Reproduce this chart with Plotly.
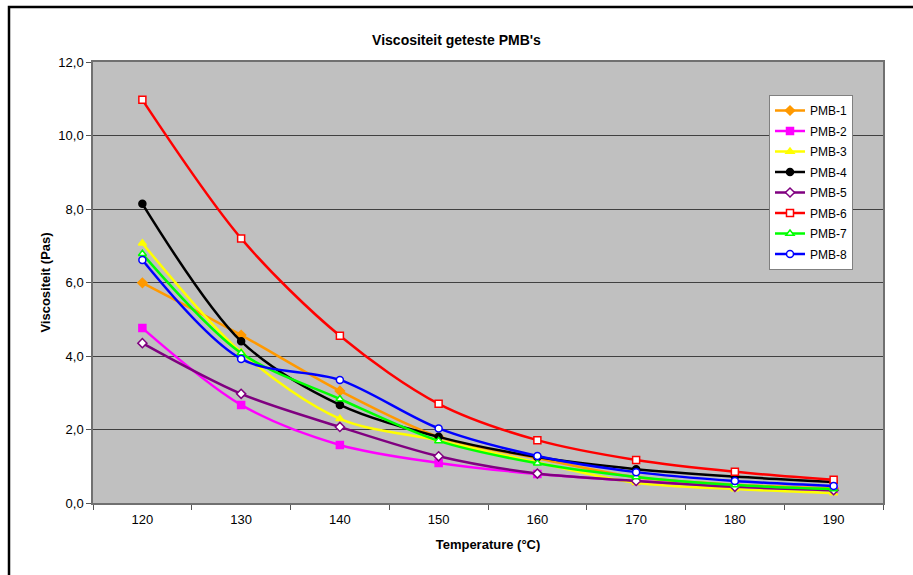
import plotly.graph_objects as go

# Temperatures (°C) and measured viscosity (Pa·s) per PMB sample
temperatures = ["120", "130", "140", "150", "160", "170", "180", "190"]

pmb_1 = [5.99, 4.57, 3.05, 1.80, 1.22, 0.70, 0.50, 0.40]
pmb_2 = [4.76, 2.67, 1.58, 1.09, 0.79, 0.60, 0.45, 0.35]
pmb_3 = [7.07, 4.10, 2.29, 1.70, 1.10, 0.55, 0.38, 0.27]
pmb_4 = [8.14, 4.40, 2.67, 1.80, 1.25, 0.92, 0.72, 0.57]
pmb_5 = [4.35, 2.97, 2.07, 1.27, 0.80, 0.60, 0.44, 0.35]
pmb_6 = [10.97, 7.20, 4.55, 2.70, 1.71, 1.17, 0.85, 0.63]
pmb_7 = [6.78, 4.08, 2.83, 1.69, 1.08, 0.71, 0.49, 0.38]
pmb_8 = [6.61, 3.92, 3.35, 2.03, 1.28, 0.84, 0.60, 0.46]

series = [
    ("PMB-1", pmb_1, "#FF9900", "diamond", "#FF9900"),
    ("PMB-2", pmb_2, "#FF00FF", "square", "#FF00FF"),
    ("PMB-3", pmb_3, "#FFFF00", "triangle-up", "#FFFF00"),
    ("PMB-4", pmb_4, "#000000", "circle", "#000000"),
    ("PMB-5", pmb_5, "#800080", "diamond", "#FFFFFF"),
    ("PMB-6", pmb_6, "#FF0000", "square", "#FFFFFF"),
    ("PMB-7", pmb_7, "#00FF00", "triangle-up", "#FFFFFF"),
    ("PMB-8", pmb_8, "#0000FF", "circle", "#FFFFFF"),
]

fig = go.Figure()
for name, values, color, symbol, fill in series:
    fig.add_trace(go.Scatter(
        x=temperatures, y=values, name=name, legendgroup=name,
        mode="lines+markers",
        line=dict(color=color, width=2.5, shape="spline", smoothing=0.9),
        marker=dict(symbol=symbol, size=7, color=fill,
                    line=dict(color=color, width=1.5)),
    ))

FONT = "Liberation Sans, Arial, sans-serif"

# page layout: plot area spans 93..883 px horizontally, 62..503 px vertically
L, R, T, B = 93, 30, 62, 72
W, H = 913, 575
pw, ph = W - L - R, H - T - B


def px_x(p):
    return (p - L) / pw


def px_y(p):
    return (H - B - p) / ph


fig.update_layout(
    width=W, height=H,
    margin=dict(l=L, r=R, t=T, b=B),
    paper_bgcolor="white",
    plot_bgcolor="#C0C0C0",
    separators=",.",
    font=dict(family=FONT, size=13, color="#000000"),
    title=dict(text="<b>Viscositeit geteste PMB's</b>", x=0.5, xanchor="center",
               y=1 - 40 / H, yanchor="middle", font=dict(size=14)),
    xaxis=dict(
        type="category",
        range=[-0.5, len(temperatures) - 0.5],
        title=dict(text="<b>Temperature (°C)</b>", font=dict(size=13), standoff=14),
        ticks="outside", ticklen=5, tickcolor="#555555",
        tickson="boundaries", ticklabelstandoff=4,
        showgrid=False, showline=True, linecolor="#707070", linewidth=1.5,
        mirror=True, zeroline=False,
    ),
    yaxis=dict(
        title=dict(text="<b>Viscositeit (Pas)</b>", font=dict(size=13), standoff=5),
        range=[0, 12], dtick=2, tickformat=".1f",
        ticks="outside", ticklen=5, tickcolor="#555555",
        showgrid=True, gridcolor="#404040", gridwidth=1.2,
        showline=True, linecolor="#707070", linewidth=1.5, mirror=True,
        zeroline=False,
    ),
    legend=dict(
        x=px_x(769), y=px_y(95), xanchor="left", yanchor="top",
        bgcolor="white", bordercolor="#808080", borderwidth=1,
        font=dict(size=12), itemwidth=30, tracegroupgap=1.5,
    ),
    showlegend=True,
)

# outer chart frame
fig.add_shape(type="rect", xref="paper", yref="paper",
              x0=px_x(9), x1=px_x(925), y0=px_y(590), y1=px_y(7),
              line=dict(color="#000000", width=2.5), fillcolor="rgba(0,0,0,0)",
              layer="above")

fig.write_html("out.html")
